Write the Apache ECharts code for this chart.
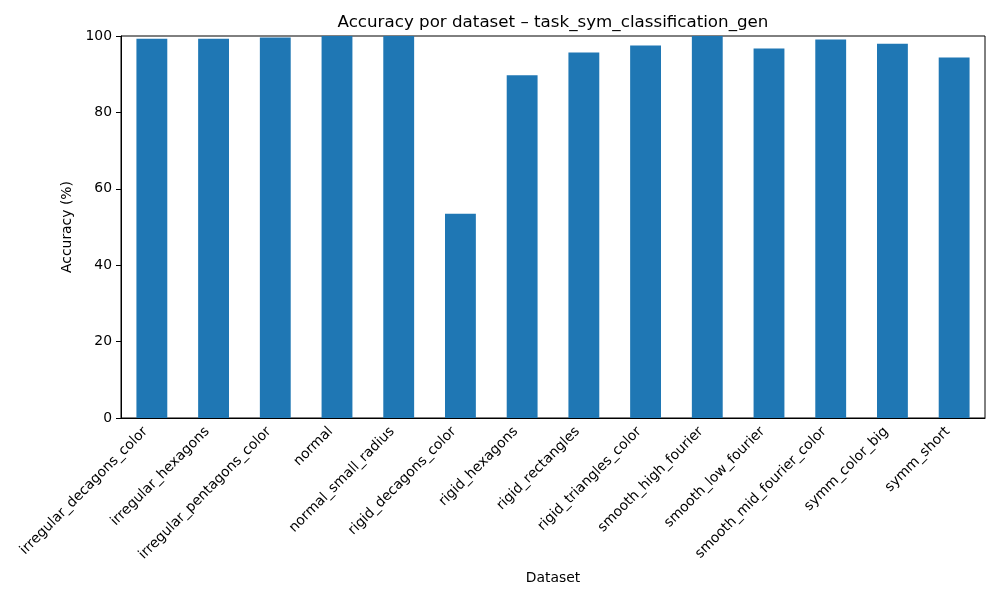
<!DOCTYPE html>
<html>
<head>
<meta charset="utf-8">
<script src="https://cdn.jsdelivr.net/npm/echarts@6/dist/echarts.min.js"></script>
<style>
  html, body { margin: 0; padding: 0; background: #fff; }
  #chart { width: 1000px; height: 600px; }
</style>
</head>
<body>
<div id="chart"></div>
<script>
var datasets = ['irregular_decagons_color', 'irregular_hexagons', 'irregular_pentagons_color', 'normal',
    'normal_small_radius', 'rigid_decagons_color', 'rigid_hexagons', 'rigid_rectangles',
    'rigid_triangles_color', 'smooth_high_fourier', 'smooth_low_fourier', 'smooth_mid_fourier_color',
    'symm_color_big', 'symm_short'];
var accuracy = [99.3, 99.3, 99.6, 100, 100, 53.5, 89.7, 95.7, 97.5, 100, 96.7, 99.1, 98.0, 94.4];
var yTicks = [0, 20, 40, 60, 80, 100];

var font = 'DejaVu Sans';
var myChart = echarts.init(document.getElementById('chart'));

var option = {
    animation: false,
    textStyle: { fontFamily: font },
    title: {
        text: 'Accuracy por dataset \u2013 task_sym_classification_gen',
        left: 548,
        textAlign: 'center',
        top: 9,
        textStyle: { fontFamily: font, fontSize: 16.7, fontWeight: 'normal', color: '#000' }
    },
    // grid border gives the closed matplotlib frame
    grid: { left: 121, right: 15, top: 36, bottom: 182, show: true, borderColor: '#000', borderWidth: 1 },
    xAxis: {
        type: 'category',
        data: datasets,
        name: 'Dataset',
        nameLocation: 'middle',
        nameGap: 153,
        nameTextStyle: { fontFamily: font, fontSize: 13.9, color: '#000' },
        axisLine: { lineStyle: { color: '#000', width: 1 } },
        axisTick: { alignWithLabel: true, length: 5, lineStyle: { color: '#000' } },
        axisLabel: {
            rotate: 45, interval: 0, margin: 5, padding: [0, 9, 0, 0],
            fontFamily: font, fontSize: 13.9, color: '#000'
        },
        splitLine: { show: false }
    },
    yAxis: {
        type: 'value',
        min: 0,
        max: 100,
        interval: 20,
        name: 'Accuracy (%)',
        nameLocation: 'middle',
        nameGap: 43,
        nameTextStyle: { fontFamily: font, fontSize: 13.9, color: '#000' },
        axisLine: { show: true, lineStyle: { color: '#000', width: 1 } },
        axisTick: { show: true, length: 5, lineStyle: { color: '#000' } },
        axisLabel: {
            fontFamily: font, fontSize: 13.9, color: '#000', margin: 9,
            formatter: function (v) { return yTicks.indexOf(v) >= 0 ? String(v) : ''; }
        },
        splitLine: { show: false }
    },
    series: [{
        type: 'bar',
        data: accuracy,
        barWidth: '50%',
        itemStyle: { color: '#1f77b4' }
    }]
};
myChart.setOption(option);
</script>
</body>
</html>
